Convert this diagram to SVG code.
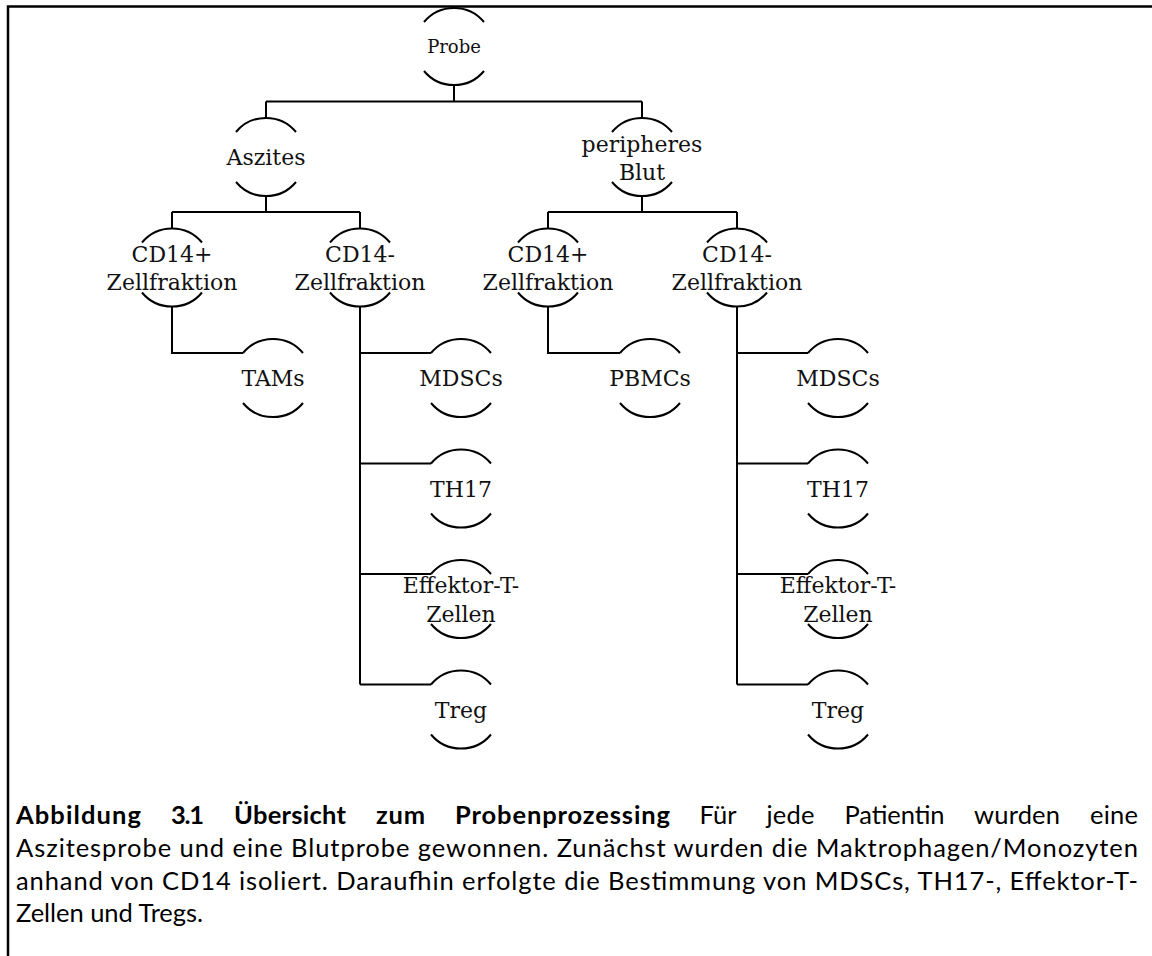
<svg xmlns="http://www.w3.org/2000/svg" width="1152" height="956" viewBox="0 0 1152 956">
<style>
.arc{fill:none;stroke:#000;stroke-width:2}
.lbl{font-family:"DejaVu Serif","Liberation Serif",serif;font-size:22px;fill:#111;text-anchor:middle}
.small{font-size:18px}
.con path{fill:none;stroke:#000;stroke-width:2}
.cap{font-family:Lato,"Liberation Sans",sans-serif;font-size:25.5px;fill:#000}
.capb{font-weight:bold}
</style>
<rect width="1152" height="956" fill="#fff"/>
<g id="frame" fill="none" stroke="#000" stroke-width="2.5">
<path d="M8,956 V6.5 H1152"/>
</g>
<g id="connectors" class="con">
<path d="M454,85.5 V101.5 M266,101.5 H642 M266,101.5 V118 M642,101.5 V118"/>
<path d="M266,196 V212 M172,212 H360 M172,212 V228.5 M360,212 V228.5"/>
<path d="M642,196 V212 M548,212 H737 M548,212 V228.5 M737,212 V228.5"/>
<path d="M172,306.5 V353 H243"/>
<path d="M548,306.5 V353 H620"/>
<path d="M360,306.5 V684.5 M360,353 H431 M360,463.5 H431 M360,574 H431 M360,684.5 H431"/>
<path d="M737,306.5 V684.5 M737,353 H808 M737,463.5 H808 M737,574 H808 M737,684.5 H808"/>
</g>
<g id="node-probe">
<path class="arc" d="M424,22 A39,39 0 0 1 484,22 M424,71 A39,39 0 0 0 484,71"/>
<text class="lbl small" x="454" y="53">Probe</text>
</g>
<g id="node-aszites">
<path class="arc" d="M236,132 A39,39 0 0 1 296,132 M236,182 A39,39 0 0 0 296,182"/>
<text class="lbl" x="266" y="165">Aszites</text>
</g>
<g id="node-blut">
<path class="arc" d="M612,132 A39,39 0 0 1 672,132 M612,182 A39,39 0 0 0 672,182"/>
<text class="lbl" x="642" y="151.5">peripheres</text>
<text class="lbl" x="642" y="179.5">Blut</text>
</g>
<g id="node-a-cd14p">
<path class="arc" d="M142,242.5 A39,39 0 0 1 202,242.5 M142,292.5 A39,39 0 0 0 202,292.5"/>
<text class="lbl" x="172" y="262">CD14+</text>
<text class="lbl" x="172" y="290">Zellfraktion</text>
</g>
<g id="node-a-cd14m">
<path class="arc" d="M330,242.5 A39,39 0 0 1 390,242.5 M330,292.5 A39,39 0 0 0 390,292.5"/>
<text class="lbl" x="360" y="262">CD14-</text>
<text class="lbl" x="360" y="290">Zellfraktion</text>
</g>
<g id="node-b-cd14p">
<path class="arc" d="M518,242.5 A39,39 0 0 1 578,242.5 M518,292.5 A39,39 0 0 0 578,292.5"/>
<text class="lbl" x="548" y="262">CD14+</text>
<text class="lbl" x="548" y="290">Zellfraktion</text>
</g>
<g id="node-b-cd14m">
<path class="arc" d="M707,242.5 A39,39 0 0 1 767,242.5 M707,292.5 A39,39 0 0 0 767,292.5"/>
<text class="lbl" x="737" y="262">CD14-</text>
<text class="lbl" x="737" y="290">Zellfraktion</text>
</g>
<g id="node-tams">
<path class="arc" d="M243,353 A39,39 0 0 1 303,353 M243,403 A39,39 0 0 0 303,403"/>
<text class="lbl" x="273" y="386">TAMs</text>
</g>
<g id="node-pbmcs">
<path class="arc" d="M620,353 A39,39 0 0 1 680,353 M620,403 A39,39 0 0 0 680,403"/>
<text class="lbl" x="650" y="386">PBMCs</text>
</g>
<g id="node-a-mdscs">
<path class="arc" d="M431,353 A39,39 0 0 1 491,353 M431,403 A39,39 0 0 0 491,403"/>
<text class="lbl" x="461" y="386">MDSCs</text>
</g>
<g id="node-a-th17">
<path class="arc" d="M431,463.5 A39,39 0 0 1 491,463.5 M431,513.5 A39,39 0 0 0 491,513.5"/>
<text class="lbl" x="461" y="496.5">TH17</text>
</g>
<g id="node-a-eff">
<path class="arc" d="M431,574 A39,39 0 0 1 491,574 M431,624 A39,39 0 0 0 491,624"/>
<text class="lbl" x="461" y="593">Effektor-T-</text>
<text class="lbl" x="461" y="622">Zellen</text>
</g>
<g id="node-a-treg">
<path class="arc" d="M431,684.5 A39,39 0 0 1 491,684.5 M431,734.5 A39,39 0 0 0 491,734.5"/>
<text class="lbl" x="461" y="717.5">Treg</text>
</g>
<g id="node-b-mdscs">
<path class="arc" d="M808,353 A39,39 0 0 1 868,353 M808,403 A39,39 0 0 0 868,403"/>
<text class="lbl" x="838" y="386">MDSCs</text>
</g>
<g id="node-b-th17">
<path class="arc" d="M808,463.5 A39,39 0 0 1 868,463.5 M808,513.5 A39,39 0 0 0 868,513.5"/>
<text class="lbl" x="838" y="496.5">TH17</text>
</g>
<g id="node-b-eff">
<path class="arc" d="M808,574 A39,39 0 0 1 868,574 M808,624 A39,39 0 0 0 868,624"/>
<text class="lbl" x="838" y="593">Effektor-T-</text>
<text class="lbl" x="838" y="622">Zellen</text>
</g>
<g id="node-b-treg">
<path class="arc" d="M808,684.5 A39,39 0 0 1 868,684.5 M808,734.5 A39,39 0 0 0 868,734.5"/>
<text class="lbl" x="838" y="717.5">Treg</text>
</g>
<g id="caption" class="cap">
<text class="capb" x="16" y="824" textLength="125">Abbildung</text>
<text class="capb" x="171" y="824" textLength="33">3.1</text>
<text class="capb" x="234" y="824" textLength="112">Übersicht</text>
<text class="capb" x="376" y="824" textLength="49">zum</text>
<text class="capb" x="455" y="824" textLength="215">Probenprozessing</text>
<text x="699.5" y="824" textLength="37">Für</text>
<text x="766.5" y="824" textLength="48">jede</text>
<text x="844.5" y="824" textLength="100">Patientin</text>
<text x="974" y="824" textLength="86">wurden</text>
<text x="1090" y="824" textLength="48">eine</text>
<text x="16" y="857" textLength="1122">Aszitesprobe und eine Blutprobe gewonnen. Zunächst wurden die Maktrophagen/Monozyten</text>
<text x="16" y="890" textLength="1122">anhand von CD14 isoliert. Daraufhin erfolgte die Bestimmung von MDSCs, TH17-, Effektor-T-</text>
<text x="16" y="922" textLength="187">Zellen und Tregs.</text>
</g>
</svg>
